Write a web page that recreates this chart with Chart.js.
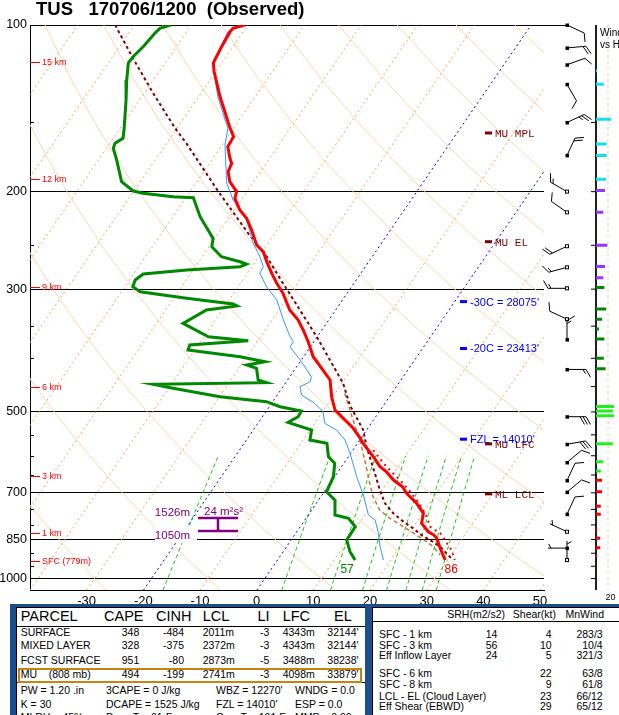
<!DOCTYPE html>
<html>
<head>
<meta charset="utf-8">
<script src="https://cdn.jsdelivr.net/npm/chart.js@4.4.0/dist/chart.umd.min.js"></script>
<style>
  html, body { margin: 0; padding: 0; background: #fff; }
  body { width: 619px; height: 715px; overflow: hidden; position: relative; font-family: "Liberation Sans", Arial, sans-serif; }
  canvas { position: absolute; top: 0; }
  #main { left: 0; }
  #wind { left: 586px; }
  #title { position: absolute; left: 36px; top: -1px; font: bold 18.5px "Liberation Sans", Arial, sans-serif; line-height: 20px; white-space: pre; }
  .t { position: absolute; white-space: pre; }
  .box { position: absolute; }
</style>
</head>
<body>
<canvas id="main" width="619" height="715"></canvas>
<canvas id="wind" width="33" height="715"></canvas>
<div id="title">TUS   170706/1200  (Observed)</div>
<div id="table"></div>
<script>
// ---- sounding data (temperature in C, pressure in mb) ----
const tempP = [100, 101.4, 102.8, 109.4, 117.0, 121.4, 134.8, 153.7, 159.1, 165.9, 174.1, 177.8, 184.1, 191.9, 200.0, 205.6, 215.9, 223.5, 234.6, 249.7, 256.8, 267.7, 280.9, 292.9, 305.3, 327.2, 341.1, 355.6, 373.4, 397.4, 437.8, 469.4, 496.0, 510.1, 531.7, 550.4, 569.8, 602.4, 627.9, 641.0, 663.7, 682.5, 701.4, 731.2, 762.3, 794.7, 823.0, 834.4, 845.9, 881.8, 925.8];
const tempC = [-70.5, -72.2, -72.3, -72.0, -71.5, -70.3, -66.2, -60.6, -59.0, -58.8, -57.0, -56.1, -55.7, -54.2, -51.8, -51.3, -49.0, -46.8, -44.5, -41.8, -39.8, -38.0, -35.7, -33.6, -31.3, -28.1, -25.4, -23.3, -21.0, -18.3, -12.5, -10.2, -8.0, -6.0, -3.0, -0.9, 1.0, 4.4, 6.8, 8.5, 10.8, 13.2, 14.7, 17.7, 20.1, 21.0, 23.2, 24.6, 25.5, 27.3, 29.6];

const dewP = [100, 101.4, 103.5, 109.4, 114.1, 117.0, 125.7, 136.6, 153.7, 160.2, 163.6, 167.0, 175.3, 191.9, 199.5, 201.4, 204.3, 205.1, 222.0, 234.6, 242.9, 251.5, 262.2, 267.7, 270.3, 273.3, 277.1, 281.7, 288.8, 297.0, 303.3, 311.7, 319.2, 321.8, 327.2, 345.9, 365.7, 371.8, 378.5, 386.5, 397.4, 405.8, 411.4, 417.0, 437.8, 442.8, 445.7, 453.2, 469.4, 479.2, 489.3, 498.1, 510.1, 522.1, 539.1, 562.0, 569.8, 602.4, 619.2, 654.7, 697.0, 721.4, 767.7, 778.4, 806.0, 851.9, 894.3, 925.8];
const dewC = [-83.6, -85.1, -85.4, -85.8, -86.4, -86.5, -84.7, -82.4, -79.3, -78.3, -79.1, -78.8, -76.8, -73.3, -70.1, -68.1, -62.4, -58.7, -55.2, -52.2, -50.3, -49.5, -46.6, -42.7, -41.3, -42.1, -51.1, -58.3, -59.0, -58.6, -56.7, -47.7, -38.8, -37.9, -42.8, -45.3, -39.2, -31.7, -41.5, -41.2, -31.2, -26.2, -29.0, -26.9, -25.2, -23.4, -43.2, -39.2, -29.9, -21.1, -18.1, -13.8, -13.7, -14.8, -9.7, -8.8, -5.4, -3.5, -1.6, -0.2, 0.4, 2.9, 4.7, 7.5, 9.7, 9.8, 11.8, 13.7];

const wetP = [100, 102.8, 117.0, 134.8, 153.7, 164.7, 192.9, 207.1, 225.0, 248.0, 262.2, 273.3, 280.9, 297.0, 313.9, 341.1, 365.7, 373.4, 381.2, 402.9, 431.9, 441.0, 450.2, 466.1, 482.4, 499.6, 524.3, 539.1, 562.0, 593.9, 654.7, 706.5, 767.7, 784.0, 828.4, 875.9, 925.8];
const wetC = [-71.4, -72.7, -71.6, -66.6, -61.0, -59.5, -54.6, -51.4, -46.6, -42.6, -39.8, -38.0, -37.8, -35.0, -31.6, -28.0, -24.8, -23.6, -23.6, -20.2, -16.2, -15.8, -17.0, -15.7, -12.4, -9.9, -8.2, -5.3, -2.6, -0.1, 3.9, 7.3, 10.6, 12.4, 14.6, 16.5, 18.7];

const virtP = [586.0, 619.2, 645.4, 673.0, 701.4, 736.4, 773.2, 806.0, 828.4, 863.7, 888.0, 925.8];
const virtC = [3.6, 7.0, 9.9, 12.9, 15.6, 18.5, 21.1, 22.9, 25.5, 27.9, 29.5, 31.3];

const muParcelP = [100, 114.9, 132.9, 153.7, 163.6, 200, 237.9, 262.2, 292.9, 327.2, 365.7, 443.9, 485.8, 539.1, 577.9, 645.4, 692.0, 731.2, 762.3, 789.3, 811.4, 834.4, 851.9, 875.9, 906.7, 925.8];
const muParcelC = [-93.4, -86.2, -78.4, -70.3, -66.5, -55.0, -44.7, -38.6, -32.5, -26.3, -20.1, -9.8, -6.0, -0.6, 2.0, 6.7, 9.6, 12.1, 14.8, 17.6, 20.1, 22.4, 24.5, 27.1, 29.5, 31.0];

const sbParcelP = [462.8, 517.2, 562.0, 610.7, 673.0, 711.4, 752.0, 778.4, 806.0, 834.4, 857.9, 875.9, 906.7];
const sbParcelC = [-8.3, -3.6, 0.0, 3.3, 7.0, 9.2, 12.0, 14.8, 18.2, 21.5, 24.1, 25.9, 28.1];

// wind barbs (direction from, kt)
const windP   = [100, 110, 118, 128, 150, 172, 200, 218, 251, 274, 299, 340, 370, 419, 510, 572, 617, 665, 698, 765, 823, 881, 926];
const windDir = [115, 85, 70, 150, 65, 25, 300, 305, 245, 255, 270, 295, 360, 90, 90, 80, 50, 25, 50, 25, 295, 270, 360];
const windSpd = [10, 20, 10, 10, 25, 20, 15, 10, 20, 15, 15, 10, 15, 15, 30, 30, 10, 10, 10, 10, 5, 5, 5];
const windHollow = [0, 0, 0, 0, 0, 0, 1, 1, 1, 1, 1, 1, 0, 0, 0, 0, 0, 0, 0, 0, 1, 0, 1];

// wind vs height column
const colP   = [121, 128, 148, 164, 172, 190, 199, 218, 250, 273, 286, 298, 326, 340, 354, 369, 400, 418, 489, 498, 508, 571, 615, 639, 664, 697, 740, 765, 817, 846, 880, 910];
const colSpd = [2, 13, 25, 18, 18, 17, 15, 12, 19, 15, 12, 14, 17, 10, 5, 14, 13, 16, 30, 28, 30, 28, 12, 8, 10, 10, 8, 8, 2, 7, 7, 2];
const bandTopP = [190, 297, 450, 653];
const bandColors = ['#12e0ea', '#9933ff', '#008800', '#22ee22', '#ff0000'];
const colTickP = [150, 200, 250, 300, 350, 400, 450, 500, 550, 600, 650, 700, 750, 800, 850, 900, 950, 1000];

// axes / reference lines
const tempTicks = [-30, -20, -10, 0, 10, 20, 30, 40, 50];
const presTicks = [100, 200, 300, 500, 700, 850, 1000];
const minorTickP = [150, 250, 350, 400, 450, 550, 600, 650, 750, 800, 900, 950];
const isotherms = [-110, -100, -90, -80, -70, -60, -50, -40, -30, -10, 10, 20, 30, 40, 50];
const blueIsotherms = [-20, 0];
const adiabatT1000 = [-30, -10, 10, 30, 50, 70, 90, 110, 130, 150, 170, 190, 210];
const adiabatP = [1050, 1000, 950, 900, 850, 800, 750, 700, 650, 600, 550, 500, 450, 400, 350, 300, 250, 200, 175, 150, 125, 100];
const mixRatios = [1, 5, 9, 13, 17, 21, 25, 29];
const mixP = [1050, 1000, 900, 800, 700, 600];

// labels on the diagram
const kmLabels = ['15 km', '12 km', '9 km', '6 km', '3 km', '1 km', 'SFC (779m)'];
const kmP = [116.6, 190, 297, 450, 653, 827, 930];
const parcelLvlNames = ['MU MPL', 'MU EL', 'MU LFC', 'ML LCL'];
const parcelLvlP = [156.7, 246.3, 571, 703];
const isoLvlNames = ["-30C = 28075'", "-20C = 23413'", "FZL = 14010'"];
const isoLvlP = [316, 384, 560];
const effInflowP = [776, 820];
const effInflowText = ['1526m', '1050m', '24 m²s²'];
const sfcText = ['86', '57'];

// ---- skew-T transform ----
const P_TOP = 100, P_BOT = 1050, SKEW = 29.1;
const skewX = (t, p) => t + SKEW * Math.log(P_BOT / p);
const series = (ps, ts) => ps.map((p, i) => ({ x: skewX(ts[i], p), y: p }));
const dewFromW = (w, p) => { const l = Math.log(w * p / (622 + w) / 6.112); return 243.5 * l / (17.67 - l); };

function lineDs(data, color, width, dash, order) {
  return { data, borderColor: color, borderWidth: width, borderDash: dash || [], pointRadius: 0,
           showLine: true, fill: false, tension: 0, order, borderCapStyle: 'butt' };
}

const datasets = [];
adiabatT1000.forEach(t0 => {
  datasets.push(lineDs(adiabatP.map(p => ({ x: skewX((t0 + 273.15) * Math.pow(p / 1000, 0.2857) - 273.15, p), y: p })), '#fcd6ae', 1, [], 20));
});
isotherms.forEach(t => datasets.push(lineDs([{ x: skewX(t, P_BOT), y: P_BOT }, { x: skewX(t, P_TOP), y: P_TOP }], '#f6a24e', 1, [2, 3], 19)));
blueIsotherms.forEach(t => datasets.push(lineDs([{ x: skewX(t, P_BOT), y: P_BOT }, { x: skewX(t, P_TOP), y: P_TOP }], '#0000ee', 1, [2, 3], 18)));
mixRatios.forEach(w => datasets.push(lineDs(mixP.map(p => ({ x: skewX(dewFromW(w, p), p), y: p })), '#11cc11', 1, [4, 3], 18)));
datasets.push(lineDs(series(sbParcelP, sbParcelC), '#c8753a', 1.5, [4, 3], 6));
datasets.push(lineDs(series(muParcelP, muParcelC), '#800000', 2, [3, 3], 5));
datasets.push(lineDs(series(virtP, virtC), '#ff0000', 2, [2, 4], 4));
datasets.push(lineDs(series(wetP, wetC), '#3399ff', 1, [], 3));
datasets.push(lineDs(series(dewP, dewC), '#008800', 3, [], 2));
datasets.push(lineDs(series(tempP, tempC), '#ff0000', 3, [], 1));

function drawBarb(ctx, x0, y0, dir, spd, hollow) {
  const r = dir * Math.PI / 180;
  const ux = Math.sin(r), uy = -Math.cos(r);
  const L = 19, fl = 9, sp = 3;
  const ex = x0 + L * ux, ey = y0 + L * uy;
  const c = Math.cos(Math.PI / 3), s = Math.sin(Math.PI / 3);
  const fx = ux * c - uy * s, fy = ux * s + uy * c;
  ctx.beginPath();
  ctx.moveTo(x0, y0); ctx.lineTo(ex, ey);
  const n = Math.round(spd / 5);
  let i = 0;
  for (let k = 0; k < Math.floor(n / 2); k++, i++) {
    const bx = ex - i * sp * ux, by = ey - i * sp * uy;
    ctx.moveTo(bx, by); ctx.lineTo(bx + fl * fx, by + fl * fy);
  }
  if (n % 2) {
    if (i === 0) i = 1;
    const bx = ex - i * sp * ux, by = ey - i * sp * uy;
    ctx.moveTo(bx, by); ctx.lineTo(bx + fl * 0.55 * fx, by + fl * 0.55 * fy);
  }
  ctx.stroke();
  if (hollow) { ctx.fillStyle = '#fff'; ctx.fillRect(x0 - 2, y0 - 2, 4, 4); ctx.strokeRect(x0 - 1.5, y0 - 1.5, 3, 3); }
  else { ctx.fillStyle = '#000'; ctx.fillRect(x0 - 1.5, y0 - 1.5, 3.5, 3.5); }
}

const decor = {
  id: 'decor',
  afterDatasetsDraw(chart) {
    const { ctx, chartArea: a, scales } = chart;
    const py = p => scales.y.getPixelForValue(p);
    const px = (t, p) => scales.x.getPixelForValue(skewX(t, p));
    ctx.save();
    ctx.lineWidth = 1;
    ctx.strokeStyle = '#000';
    const top = Math.round(a.top) + 0.5;
    ctx.beginPath(); ctx.moveTo(a.right, top); ctx.lineTo(a.right + 23, top); ctx.stroke();
    minorTickP.forEach(p => {
      const y = Math.round(py(p)) + 0.5;
      ctx.beginPath(); ctx.moveTo(a.left, y); ctx.lineTo(a.left + 4, y); ctx.stroke();
    });

    // height markers
    ctx.strokeStyle = '#ff0000'; ctx.fillStyle = '#ff0000';
    ctx.font = '9px "Liberation Sans"'; ctx.textBaseline = 'middle'; ctx.textAlign = 'left';
    kmP.forEach((p, i) => {
      const y = Math.round(py(p)) + 0.5;
      ctx.beginPath(); ctx.moveTo(a.left, y); ctx.lineTo(a.left + 10, y); ctx.stroke();
      ctx.fillText(kmLabels[i], a.left + 12, y + 0.5);
    });

    // parcel levels
    ctx.fillStyle = '#800000'; ctx.font = '11px "Liberation Mono"';
    parcelLvlP.forEach((p, i) => {
      const y = py(p);
      ctx.fillRect(a.right - 59, y - 1.5, 7, 3);
      ctx.fillText(parcelLvlNames[i], a.right - 49, y + 1);
    });
    // isotherm heights
    ctx.fillStyle = '#0000ff'; ctx.font = '11px "Liberation Sans"';
    isoLvlP.forEach((p, i) => {
      const y = py(p);
      ctx.fillRect(a.right - 84, y - 1.5, 7, 3);
      ctx.fillText(isoLvlNames[i], a.right - 74, y + 1);
    });

    // effective inflow layer
    const yt = Math.round(py(effInflowP[0])), yb = Math.round(py(effInflowP[1]));
    const x0 = a.left + 168, x1 = a.left + 208, xm = a.left + 188;
    ctx.fillStyle = '#fff'; ctx.fillRect(a.left + 125, yb - 4, 42, 16);
    ctx.strokeStyle = '#800080'; ctx.lineWidth = 2.5;
    ctx.beginPath();
    ctx.moveTo(x0, yt); ctx.lineTo(x1, yt);
    ctx.moveTo(x0, yb); ctx.lineTo(x1, yb);
    ctx.moveTo(xm, yt); ctx.lineTo(xm, yb);
    ctx.stroke();
    ctx.fillStyle = '#800080'; ctx.font = '11.5px "Liberation Sans"';
    ctx.textAlign = 'right';
    ctx.fillText(effInflowText[0], a.left + 160, yt - 5);
    ctx.fillText(effInflowText[1], a.left + 160, yb + 5);
    ctx.textAlign = 'left';
    ctx.fillText(effInflowText[2], a.left + 174, yt - 6);

    // surface values
    const ps = tempP[tempP.length - 1];
    ctx.font = '12px "Liberation Sans"'; ctx.textAlign = 'center';
    ctx.fillStyle = '#ff0000';
    ctx.fillText(sfcText[0], px(tempC[tempC.length - 1], ps) + 6, py(ps) + 10);
    ctx.fillStyle = '#008800';
    ctx.fillText(sfcText[1], px(dewC[dewC.length - 1], dewP[dewP.length - 1]) - 8, py(ps) + 10);

    // wind barbs
    ctx.strokeStyle = '#000'; ctx.lineWidth = 1;
    windP.forEach((p, i) => drawBarb(ctx, a.right + 23, py(p), windDir[i], windSpd[i], windHollow[i]));
    ctx.restore();
  }
};

new Chart(document.getElementById('main'), {
  type: 'scatter',
  data: { datasets },
  options: {
    responsive: false, animation: false, events: [],
    layout: { padding: { left: 0, top: 25, right: 75, bottom: 104.7 } },
    plugins: { legend: { display: false }, tooltip: { enabled: false } },
    scales: {
      x: {
        type: 'linear', min: -40, max: 50.7,
        grid: { display: false, drawTicks: false },
        border: { display: true, color: '#000', width: 1 },
        ticks: { color: '#000', font: { family: 'Liberation Sans', size: 13 }, padding: 3, autoSkip: false, maxRotation: 0, callback: v => String(v) },
        afterBuildTicks: s => { s.ticks = tempTicks.map(v => ({ value: v })); },
        afterFit: s => { s.height = 20; }
      },
      y: {
        type: 'logarithmic', min: P_TOP, max: P_BOT, reverse: true,
        grid: { color: '#000', lineWidth: 1, drawTicks: false },
        border: { display: true, color: '#000', width: 1 },
        ticks: { color: '#000', font: { family: 'Liberation Sans', size: 12.5 }, padding: 3, autoSkip: false, callback: v => String(v) },
        afterBuildTicks: s => { s.ticks = presTicks.map(v => ({ value: v })); },
        afterFit: s => { s.width = 30; }
      }
    }
  },
  plugins: [decor]
});

// ---- wind vs height column ----
const windSets = [];
windSets.push(lineDs([{ x: 0, y: P_TOP }, { x: 0, y: P_BOT }], '#000', 1, [], 5));
windSets.push(lineDs([{ x: 20, y: P_TOP }, { x: 20, y: P_BOT }], '#f9c898', 1, [3, 3], 6));
colTickP.forEach(p => windSets.push(lineDs([{ x: -8.4, y: p }, { x: 0, y: p }], '#000', 1, [], 4)));
colP.forEach((p, i) => {
  let b = bandTopP.findIndex(t => p <= t);
  if (b < 0) b = bandTopP.length;
  windSets.push(lineDs([{ x: 0, y: p }, { x: colSpd[i], y: p }], bandColors[b], 3, [], 1));
});
new Chart(document.getElementById('wind'), {
  type: 'scatter',
  data: { datasets: windSets },
  options: {
    responsive: false, animation: false, events: [],
    layout: { padding: { left: 0, top: 25, right: 0, bottom: 124.7 } },
    plugins: { legend: { display: false }, tooltip: { enabled: false } },
    scales: {
      x: { type: 'linear', min: -16.667, max: 38.333, display: false },
      y: { type: 'logarithmic', min: P_TOP, max: P_BOT, reverse: true, display: false }
    }
  }
});

// ---- bottom tables ----
const parcelHead = ['PARCEL', 'CAPE', 'CINH', 'LCL', 'LI', 'LFC', 'EL'];
const parcelNames = ['SURFACE', 'MIXED LAYER', 'FCST SURFACE', 'MU    (808 mb)'];
const capeVals = ['348', '328', '951', '494'];
const cinhVals = ['-484', '-375', '-80', '-199'];
const lclVals = ['2011m', '2372m', '2873m', '2741m'];
const liVals = ['-3', '-3', '-5', '-3'];
const lfcVals = ['4343m', '4343m', '3488m', '4098m'];
const elVals = ["32144'", "32144'", "38238'", "33879'"];
const indexRows = [
  ['PW = 1.20 .in', '3CAPE = 0 J/kg', "WBZ = 12270'", 'WNDG = 0.0'],
  ['K = 30', 'DCAPE = 1525 J/kg', "FZL = 14010'", 'ESP = 0.0'],
  ['MLRH = 45%', 'DownT = 61 F', 'ConvT = 101 F', 'MMP = 0.00']
];
const kinHead = ['SRH(m2/s2)', 'Shear(kt)', 'MnWind'];
const kinNames = ['SFC - 1 km', 'SFC - 3 km', 'Eff Inflow Layer', 'SFC - 6 km', 'SFC - 8 km', 'LCL - EL (Cloud Layer)', 'Eff Shear (EBWD)'];
const kinSrh = ['14', '56', '24', '', '', '', ''];
const kinShear = ['4', '10', '5', '22', '9', '23', '29'];
const kinMean = ['283/3', '10/4', '321/3', '63/8', '61/8', '66/12', '65/12'];

const tbl = document.getElementById('table');
function box(l, t, w, h, style) {
  const d = document.createElement('div');
  d.className = 'box';
  d.style.cssText = `left:${l}px;top:${t}px;width:${w}px;height:${h}px;` + style;
  tbl.appendChild(d);
}
function put(text, x, yc, size, align, color) {
  const s = document.createElement('span');
  s.className = 't';
  s.textContent = text;
  const lh = Math.round(size * 1.2);
  s.style.fontSize = size + 'px';
  s.style.lineHeight = lh + 'px';
  s.style.top = (yc - size * 0.6) + 'px';
  if (color) s.style.color = color;
  if (align === 'r') s.style.right = (619 - x) + 'px';
  else s.style.left = x + 'px';
  tbl.appendChild(s);
}
box(10, 604, 609, 111, 'background:#1d4e8c;');
box(16, 607, 349, 108, 'background:#fff;border-left:1px solid #000;border-top:1px solid #000;box-sizing:border-box;');
box(372, 607, 247, 108, 'background:#fff;border-left:1px solid #000;border-top:1px solid #000;box-sizing:border-box;');
box(16, 626, 349, 1, 'background:#000;');
box(16, 682, 349, 1, 'background:#000;');
box(372, 621, 247, 1, 'background:#000;');
box(18, 668, 340, 11, 'border:2px solid #c8850e;');

const headX = [20.7, 104, 156, 202.7, 257.5, 282.7, 334];
parcelHead.forEach((h, i) => put(h, headX[i], 616.5, 14.5, 'l'));
const rowY = [632.3, 645.7, 660, 674];
parcelNames.forEach((n, i) => {
  const y = rowY[i];
  put(n, 20.7, y, 10.5, 'l');
  put(capeVals[i], 139.3, y, 10.5, 'r');
  put(cinhVals[i], 184, y, 10.5, 'r');
  put(lclVals[i], 202.7, y, 10.5, 'l');
  put(liVals[i], 269.3, y, 10.5, 'r');
  put(lfcVals[i], 282.7, y, 10.5, 'l');
  put(elVals[i], 327.3, y, 10.5, 'l');
});
const idxX = [20.7, 106, 216, 295];
const idxY = [690.7, 704, 717];
indexRows.forEach((row, r) => row.forEach((txt, c) => put(txt, idxX[c], idxY[r], 10.5, 'l')));

const kinHeadX = [505, 556, 604];
kinHead.forEach((h, i) => put(h, kinHeadX[i], 614.3, 10.5, 'r'));
const kinY = [634, 645, 655.7, 673.3, 684, 696, 706.7];
kinNames.forEach((n, i) => {
  put(n, 379, kinY[i], 10.5, 'l');
  if (kinSrh[i]) put(kinSrh[i], 497.3, kinY[i], 10.5, 'r');
  put(kinShear[i], 551.7, kinY[i], 10.5, 'r');
  put(kinMean[i], 602.7, kinY[i], 10.5, 'r');
});

// wind column captions
put('Wind', 600, 33, 10, 'l');
put('vs Height', 600, 44.5, 10, 'l');
put('20', 605.5, 597, 9, 'l');
</script>
</body>
</html>
